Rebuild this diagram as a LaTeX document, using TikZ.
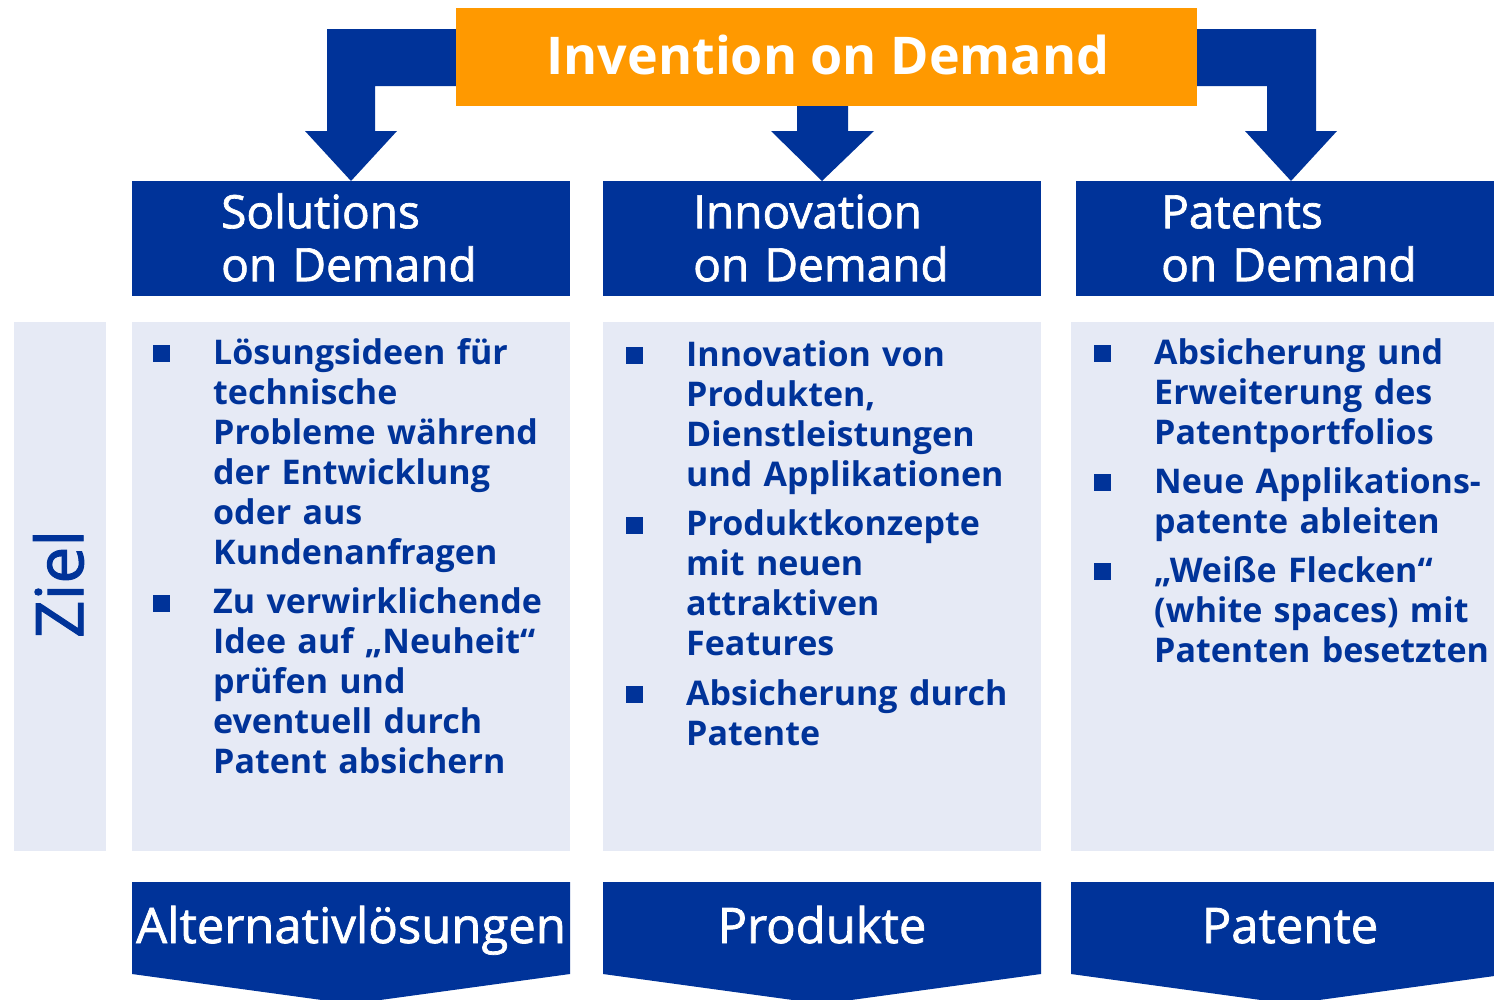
\documentclass[tikz,border=0pt]{standalone}
\usepackage{fontspec}
\setmainfont{Open Sans}
% regular outlines, slightly emboldened, used through \bfseries
\newfontfamily\midfont{Open Sans}[BoldFont=*,BoldFeatures={FakeBold=1.5}]
\definecolor{iodblue}{RGB}{0,51,153}
\definecolor{iodorange}{RGB}{255,153,0}
\definecolor{iodpale}{RGB}{230,234,245}
% square bullet with hanging indent for the list items
\newcommand\sqitem{\hangindent=60pt\hangafter=1\noindent
  \makebox[60pt][l]{\raisebox{2pt}{\rule{17pt}{17pt}}}}
\begin{document}
\begin{tikzpicture}[x=1pt,y=-1pt,
  blockarrow/.style={fill=iodblue,draw=none},
  topbox/.style={fill=iodorange,draw=none,inner sep=0pt,anchor=north west},
  headbox/.style={fill=iodblue,draw=none,inner sep=0pt,anchor=north west,
    minimum width=438pt,minimum height=115pt},
  panel/.style={fill=iodpale,draw=none,inner sep=0pt,anchor=north west,
    minimum height=529pt},
  toptext/.style={text=white,inner sep=0pt,anchor=base,
    font=\bfseries\fontsize{52}{60}\selectfont},
  headtext/.style={text=white,inner sep=0pt,anchor=north west,text width=340pt,
    font=\midfont\bfseries\fontsize{46}{53}\selectfont},
  bodytext/.style={text=iodblue,inner sep=0pt,anchor=north west,text width=440pt,
    font=\bfseries\fontsize{34}{40}\selectfont},
  bottext/.style={text=white,inner sep=0pt,anchor=base,
    font=\midfont\bfseries\fontsize{49}{50}\selectfont}]
\useasboundingbox (0,0) rectangle (1494,999);
\clip (0,0) rectangle (1494,999);

% block arrows from the top box down to the three headers
\fill[blockarrow] (460,29) -- (327,29) -- (327,131) -- (305,131) -- (351,181)
  -- (397,131) -- (375,131) -- (375,86) -- (460,86) -- cycle;
\fill[blockarrow] (797,100) -- (797,131) -- (771,131) -- (822,181) -- (874,131)
  -- (848,131) -- (848,100) -- cycle;
\fill[blockarrow] (1193,29) -- (1316,29) -- (1316,131) -- (1337,131) -- (1291,181)
  -- (1245,131) -- (1267,131) -- (1267,86) -- (1193,86) -- cycle;

% top box
\node[topbox,minimum width=741pt,minimum height=98pt] (inv) at (456,8) {};
\node[toptext] (invtext) at (828,74) {Invention on Demand};

% headers
\node[headbox] (solhead) at (132,181) {};
\node[headbox] (innhead) at (603,181) {};
\node[headbox] (pathead) at (1076,181) {};
\node[headtext] (soltext) at (221,190.9) {\strut Solutions\newline on Demand};
\node[headtext] (inntext) at (693,190.9) {\strut Innovation\newline on Demand};
\node[headtext] (pattext) at (1161,190.9) {\strut Patents\newline on Demand};

% pale panels
\node[panel,minimum width=92pt] (zielbox) at (14,322) {};
\node[panel,minimum width=438pt] (solpanel) at (132,322) {};
\node[panel,minimum width=438pt] (innpanel) at (603,322) {};
\node[panel,minimum width=438pt] (patpanel) at (1071,322) {};

\node[rotate=90,text=iodblue,inner sep=0pt,font=\midfont\bfseries\fontsize{66}{66}\selectfont]
  (ziel) at (58.5,584) {Ziel};

% bullet lists
\node[bodytext] (sollist) at (153,336) {\parskip=9.5pt
  \sqitem\strut Lösungsideen für\newline technische\newline Probleme während\newline
  der Entwicklung\newline oder aus\newline Kundenanfragen\par
  \sqitem Zu verwirklichende\newline Idee auf „Neuheit“\newline prüfen und\newline
  eventuell durch\newline Patent absichern\par};
\node[bodytext] (innlist) at (626,338) {\parskip=9.5pt
  \sqitem\strut Innovation von\newline Produkten,\newline Dienstleistungen\newline
  und Applikationen\par
  \sqitem Produktkonzepte\newline mit neuen\newline attraktiven\newline Features\par
  \sqitem Absicherung durch\newline Patente\par};
\node[bodytext] (patlist) at (1094,336) {\parskip=9pt
  \sqitem\strut Absicherung und\newline Erweiterung des\newline Patentportfolios\par
  \sqitem Neue Applikations-\newline patente ableiten\par
  \sqitem „Weiße Flecken“\newline (white spaces) mit\newline Patenten besetzten\par};

% result chevrons
\fill[blockarrow] (132,882) -- (570,882) -- (570,974) -- (351,1004) -- (132,974) -- cycle;
\fill[blockarrow] (603,882) -- (1041,882) -- (1041,974) -- (822,1004) -- (603,974) -- cycle;
\fill[blockarrow] (1071,882) -- (1509,882) -- (1509,974) -- (1290,1004) -- (1071,974) -- cycle;
\node[bottext] (altres) at (351,943) {Alternativlösungen};
\node[bottext] (prodres) at (822,943) {Produkte};
\node[bottext] (patres) at (1290,943) {Patente};
\end{tikzpicture}
\end{document}
